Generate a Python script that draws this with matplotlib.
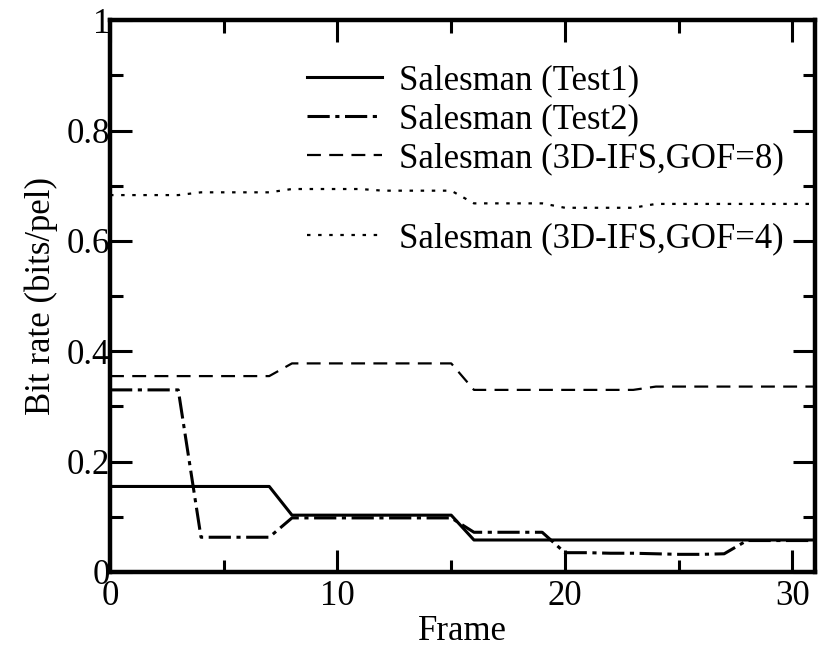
import matplotlib
matplotlib.use("Agg")
import matplotlib.pyplot as plt
from matplotlib.ticker import MultipleLocator

plt.rcParams['font.family'] = ['Liberation Serif', 'DejaVu Serif']
plt.rcParams['lines.scale_dashes'] = False

# Bit rate per frame for each coder
frames = list(range(32))
test1 = [0.155] * 8 + [0.103] * 8 + [0.058] * 16
test2 = ([0.33] * 4 + [0.063] * 4 + [0.098] * 8 + [0.072] * 4
         + [0.035, 0.035, 0.034, 0.034, 0.033, 0.032, 0.032, 0.033] + [0.057] * 4)
gof8 = [0.355] * 8 + [0.378] * 8 + [0.33] * 8 + [0.336] * 8
gof4 = ([0.683] * 4 + [0.688] * 4 + [0.694] * 4 + [0.691] * 4
        + [0.668] * 4 + [0.66] * 4 + [0.667] * 8)

labels = ["Salesman (Test1)", "Salesman (Test2)",
          "Salesman (3D-IFS,GOF=8)", "Salesman (3D-IFS,GOF=4)"]

FS = 25

fig = plt.figure(figsize=(8.18, 6.5), dpi=100)
ax = fig.add_axes([0.1345, 0.12, 0.862, 0.849])

l1, = ax.plot(frames, test1, color='black', lw=2.2, linestyle='-')
l2, = ax.plot(frames, test2, color='black', lw=2.2, linestyle=(0, (16, 4, 3, 4)))
l3, = ax.plot(frames, gof8, color='black', lw=1.6, linestyle=(0, (10, 6)))
l4, = ax.plot(frames, gof4, color='black', lw=1.6, linestyle=(0, (2.5, 5.5)))

ax.set_xlim(0, 31)
ax.set_ylim(0, 1)
ax.xaxis.set_major_locator(MultipleLocator(10))
ax.xaxis.set_minor_locator(MultipleLocator(5))
ax.yaxis.set_minor_locator(MultipleLocator(0.1))
ax.set_yticks([0, 0.2, 0.4, 0.6, 0.8, 1.0])
ax.set_yticklabels(["0", "0.2", "0.4", "0.6", "0.8", "1"])

for s in ax.spines.values():
    s.set_linewidth(3.2)

ax.tick_params(which='both', direction='in', top=True, right=True,
               width=2.2, labelsize=FS, color='black')
ax.tick_params(which='major', length=16)
ax.tick_params(which='minor', length=9)
ax.tick_params(axis='y', which='major', pad=0)
ax.tick_params(axis='x', which='major', pad=6)

ax.set_xlabel("Frame", fontsize=FS, labelpad=1)
ax.set_ylabel("Bit rate (bits/pel)", fontsize=FS, labelpad=6)

leg_kw = dict(frameon=False, fontsize=FS, handlelength=2.15,
              handletextpad=0.5, borderpad=0, borderaxespad=0)
leg1 = ax.legend([l1, l2, l3], labels[:3], loc='upper left',
                 bbox_to_anchor=(307 / 818, 1 - 64 / 650),
                 bbox_transform=fig.transFigure, labelspacing=0.18, **leg_kw)
ax.add_artist(leg1)
ax.legend([l4], labels[3:], loc='upper left',
          bbox_to_anchor=(307 / 818, 1 - 222 / 650),
          bbox_transform=fig.transFigure, **leg_kw)

fig.savefig("out.png", dpi=100)
